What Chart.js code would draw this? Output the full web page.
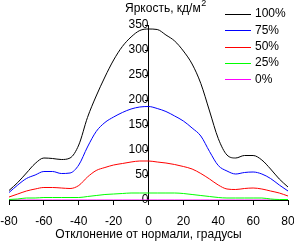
<!DOCTYPE html>
<html>
<head>
<meta charset="utf-8">
<script src="https://cdn.jsdelivr.net/npm/chart.js@4/dist/chart.umd.min.js"></script>
<style>
  html, body { margin: 0; padding: 0; background: #fff; }
  #wrap { width: 294px; height: 242px; }
</style>
</head>
<body>
<div id="wrap"><canvas id="brightChart" width="294" height="242"></canvas></div>
<script>
// Угол отклонения, градусы
const angles = [-80, -75, -70, -65, -60, -55, -50, -45, -40, -35, -30, -25, -20, -15, -10, -5, 0,
                5, 10, 15, 20, 25, 30, 35, 40, 45, 50, 55, 60, 65, 70, 75, 80];

// Яркость, кд/м2
const level100 = [19, 35, 54, 73, 84, 83, 81, 84, 110, 165, 208, 246, 280, 307, 326, 339, 342,
                  341, 330, 318, 298, 272, 233, 178, 123, 90, 84, 89, 89, 80, 62, 42, 26];
const level75  = [15, 30, 43, 50, 57, 57, 53, 54, 70, 106, 137, 155, 166, 175, 182, 186, 187,
                  183, 177, 168, 158, 144, 128, 97, 69, 58, 52, 55, 56, 52, 43, 30, 18];
const level50  = [6, 12, 18, 22, 25, 25, 24, 23, 29, 46, 59, 65, 70, 73, 76, 78, 78,
                  76, 74, 71, 67, 62, 53, 42, 30, 22, 21, 23, 24, 22, 18, 14, 8];
const level25  = [1, 2, 4, 4, 5, 5, 5, 5, 5, 7, 9, 11, 12, 13, 14, 14, 14,
                  14, 14, 14, 13, 11, 9, 7, 5, 4, 4, 4, 4, 4, 2, 1, 1];
const level0   = [0, 0, 0, 0, 0, 0, 0, 0, 0, 0, 0, 0, 0, 0, 0, 0, 0,
                  0, 0, 0, 0, 0, 0, 0, 0, 0, 0, 0, 0, 0, 0, 0, 0];

const seriesLabels = ['100%', '75%', '50%', '25%', '0%'];
const seriesColors = ['#000000', '#0000ff', '#ff0000', '#00ff00', '#ff00ff'];
const seriesData = [level100, level75, level50, level25, level0];

const yTitle = 'Яркость, кд/м';
const yTitleSup = '2';
const xTitle = 'Отклонение от нормали, градусы';

const fontFamily = '"Liberation Sans", Arial, sans-serif';
Chart.defaults.font.family = fontFamily;
Chart.defaults.font.size = 12;
Chart.defaults.color = '#000';

// Подпись оси Y и легенда поверх графика
const overlayPlugin = {
    id: 'overlay',
    afterDraw(chart) {
        const ctx = chart.ctx;
        ctx.save();
        ctx.fillStyle = '#000';
        ctx.textBaseline = 'middle';
        ctx.textAlign = 'left';
        ctx.font = '12px ' + fontFamily;
        const tx = 125;
        ctx.fillText(yTitle, tx, 9);
        const w = ctx.measureText(yTitle).width;
        ctx.font = '9px ' + fontFamily;
        ctx.fillText(yTitleSup, tx + w + 0.5, 4);

        ctx.font = '12px ' + fontFamily;
        chart.data.datasets.forEach((ds, i) => {
            const y = 14 + i * 16.3;
            ctx.fillStyle = seriesColors[i];
            ctx.fillRect(225, Math.round(y), 26, 1);
            ctx.fillStyle = '#000';
            ctx.fillText(ds.label, 255, y);
        });
        ctx.restore();
    }
};

const datasets = seriesLabels.map((label, i) => ({
    label: label,
    data: angles.map((a, j) => ({ x: a, y: seriesData[i][j] })),
    borderColor: seriesColors[i],
    backgroundColor: seriesColors[i],
    borderWidth: 1,
    pointRadius: 0,
    cubicInterpolationMode: 'monotone',
    fill: false
}));

new Chart(document.getElementById('brightChart'), {
    type: 'line',
    data: { datasets: datasets },
    plugins: [overlayPlugin],
    options: {
        responsive: false,
        devicePixelRatio: 1,
        animation: false,
        layout: { padding: { top: 25, left: 0, right: 0, bottom: 0 } },
        plugins: {
            legend: { display: false },
            tooltip: { enabled: false }
        },
        scales: {
            x: {
                type: 'linear',
                min: -80, max: 80,
                z: 1,
                ticks: { stepSize: 20, color: '#000', padding: 9, maxRotation: 0 },
                grid: { drawOnChartArea: false, drawTicks: true, tickLength: 5, color: '#000' },
                border: { color: '#000' },
                title: { display: true, text: xTitle, color: '#000', padding: { top: 0, bottom: 0 } },
                // фиксированные отступы, как на исходном графике
                afterFit(scale) {
                    scale.height = 42;
                    scale.paddingLeft = 9;
                    scale.paddingRight = 6;
                }
            },
            y: {
                type: 'linear',
                min: 0, max: 350,
                position: { x: 0 },
                z: 1,
                ticks: { stepSize: 50, color: '#000', padding: 7 },
                grid: { drawOnChartArea: false, drawTicks: true, tickLength: 3, color: '#000' },
                border: { color: '#000' }
            }
        }
    }
});
</script>
</body>
</html>
